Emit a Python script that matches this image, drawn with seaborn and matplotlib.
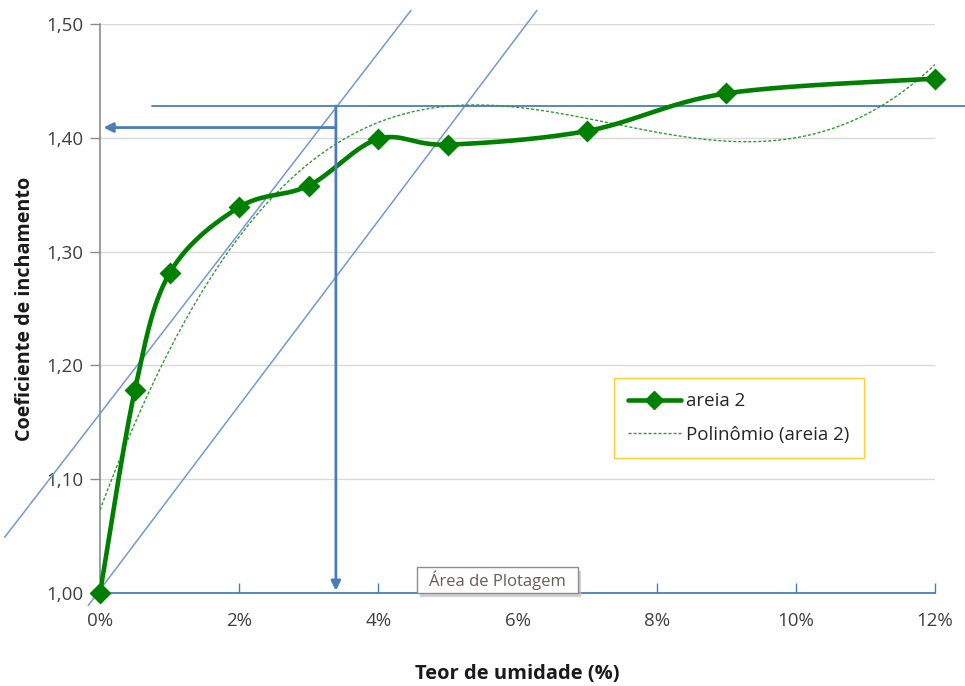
import numpy as np
import pandas as pd
import matplotlib
matplotlib.use("Agg")
import matplotlib.pyplot as plt
import seaborn as sns
from matplotlib.lines import Line2D
from matplotlib.ticker import FuncFormatter, MultipleLocator
from matplotlib.patches import FancyBboxPatch

# Moisture content (%) and swelling coefficient for sand sample 2
umidade = [0.0, 0.5, 1.0, 2.0, 3.0, 4.0, 5.0, 7.0, 9.0, 12.0]
inchamento = [1.000, 1.178, 1.281, 1.339, 1.358, 1.399, 1.394, 1.406, 1.439, 1.452]

# Construction lines used to read the critical moisture content
tangente_a = [(-1.37, 1.049), (4.47, 1.512)]
tangente_b = [(-0.17, 0.989), (6.28, 1.512)]
horizontal_max = [(0.75, 1.428), (12.43, 1.428)]
seta_vertical = [(3.39, 1.428), (3.39, 1.002)]
seta_horizontal = [(3.39, 1.409), (0.05, 1.409)]

sns.set_theme(style="white")
plt.rcParams["font.family"] = ["Open Sans", "DejaVu Sans"]

GREEN = "#008000"
TREND_GREEN = "#2e9a2e"
LINE_BLUE = "#7299d4"
ARROW_BLUE = "#4a7ebb"


def smooth_curve(x, y, steps=30):
    """Bezier smoothing through every point (spreadsheet-style smoothed line)."""
    x = np.asarray(x, float)
    y = np.asarray(y, float)
    n = len(x)
    xs, ys = [], []
    for i in range(n - 1):
        p0 = np.array([x[max(i - 1, 0)], y[max(i - 1, 0)]])
        p1 = np.array([x[i], y[i]])
        p2 = np.array([x[i + 1], y[i + 1]])
        p3 = np.array([x[min(i + 2, n - 1)], y[min(i + 2, n - 1)]])
        c1 = p1 + (p2 - p0) / 6.0
        c2 = p2 - (p3 - p1) / 6.0
        t = np.linspace(0, 1, steps, endpoint=(i == n - 2))[:, None]
        pts = ((1 - t) ** 3) * p1 + 3 * ((1 - t) ** 2) * t * c1 + 3 * (1 - t) * t ** 2 * c2 + t ** 3 * p2
        xs.append(pts[:, 0])
        ys.append(pts[:, 1])
    return np.concatenate(xs), np.concatenate(ys)


fig = plt.figure(figsize=(9.65, 6.86), dpi=100)
ax = fig.add_axes([100 / 965, 1 - 593 / 686, 835 / 965, 569 / 686])

# Polynomial trendline fitted to the measured series
coef = np.polyfit(umidade, inchamento, 3)
xt = np.linspace(0, 12, 300)
trend = pd.DataFrame({"x": xt, "y": np.polyval(coef, xt)})
sns.lineplot(data=trend, x="x", y="y", ax=ax, color=TREND_GREEN, lw=1.0,
             linestyle=(0, (2.2, 1.4)), zorder=4)

# Smoothed measured series with diamond markers
sx, sy = smooth_curve(umidade, inchamento)
sns.lineplot(x=sx, y=sy, ax=ax, color=GREEN, lw=3.3, sort=False, zorder=5)
sns.scatterplot(x=umidade, y=inchamento, ax=ax, color=GREEN, marker="D", s=125,
                edgecolor=GREEN, linewidth=0, zorder=6, clip_on=False)

# Construction lines (allowed to run outside the plotting area)
for seg in (tangente_a, tangente_b):
    (x0, y0), (x1, y1) = seg
    ax.plot([x0, x1], [y0, y1], color=LINE_BLUE, lw=1.1, clip_on=False, zorder=3)
(x0, y0), (x1, y1) = horizontal_max
ax.plot([x0, x1], [y0, y1], color=ARROW_BLUE, lw=1.3, clip_on=False, zorder=3)
for seg in (seta_vertical, seta_horizontal):
    (x0, y0), (x1, y1) = seg
    ax.annotate("", xy=(x1, y1), xytext=(x0, y0),
                arrowprops=dict(arrowstyle="-|>", color=ARROW_BLUE, lw=2.0,
                                mutation_scale=14, shrinkA=0, shrinkB=0),
                annotation_clip=False, zorder=7)

ax.set_xlim(0, 12)
ax.set_ylim(1.0, 1.5)
ax.xaxis.set_major_locator(MultipleLocator(2))
ax.yaxis.set_major_locator(MultipleLocator(0.1))
ax.xaxis.set_major_formatter(FuncFormatter(lambda v, p: f"{v:.0f}%"))
ax.yaxis.set_major_formatter(FuncFormatter(lambda v, p: f"{v:.2f}".replace(".", ",")))
ax.grid(axis="y", color="#d9d9d9", lw=1.0)
ax.set_axisbelow(True)

for side in ("top", "right"):
    ax.spines[side].set_visible(False)
ax.spines["left"].set_color("#8c8c8c")
ax.spines["left"].set_linewidth(1.2)
ax.spines["bottom"].set_color(ARROW_BLUE)
ax.spines["bottom"].set_linewidth(1.3)
ax.tick_params(axis="y", direction="out", length=7, width=1.0, color="#8c8c8c",
               labelsize=13.5, labelcolor="#404040", left=True, pad=5)
ax.tick_params(axis="x", direction="in", length=7, width=1.0, color=ARROW_BLUE,
               labelsize=13.5, labelcolor="#404040", bottom=True, pad=14)

ax.set_xlabel("Teor de umidade (%)", fontsize=14.5, fontweight="bold", color="#1a1a1a", labelpad=24)
ax.set_ylabel("Coeficiente de inchamento", fontsize=14.2, fontweight="bold", color="#1a1a1a", labelpad=8)

handles = [
    Line2D([], [], color=GREEN, lw=3.3, marker="D", markersize=9),
    Line2D([], [], color=TREND_GREEN, lw=1.0, linestyle=(0, (2.2, 1.4))),
]
leg = ax.legend(handles, ["areia 2", "Polinômio (areia 2)"], loc="upper left",
                bbox_to_anchor=((614 - 100) / 835, (593 - 378) / 569),
                borderaxespad=0, frameon=True, fancybox=False, fontsize=13.5,
                handlelength=2.8, borderpad=0.75, labelspacing=0.85, handletextpad=0.3)
leg.get_frame().set_edgecolor("#ffc000")
leg.get_frame().set_linewidth(1.0)
for t in leg.get_texts():
    t.set_color("#262626")

# Plot-area tag near the bottom axis
fig.patches.append(FancyBboxPatch((420 / 965, 1 - 597 / 686), 161 / 965, 26 / 686,
                                  boxstyle="square,pad=0", transform=fig.transFigure,
                                  facecolor="#bdbdbd", edgecolor="none", alpha=0.7, zorder=9))
fig.patches.append(FancyBboxPatch((417 / 965, 1 - 593 / 686), 161 / 965, 26 / 686,
                                  boxstyle="square,pad=0", transform=fig.transFigure,
                                  facecolor="white", edgecolor="#8c8c8c", lw=1.0, zorder=10))
fig.text(497.5 / 965, 1 - 580 / 686, "Área de Plotagem", ha="center", va="center",
         fontsize=12, color="#6b5d50", zorder=11)

fig.savefig("out.png", dpi=100)
